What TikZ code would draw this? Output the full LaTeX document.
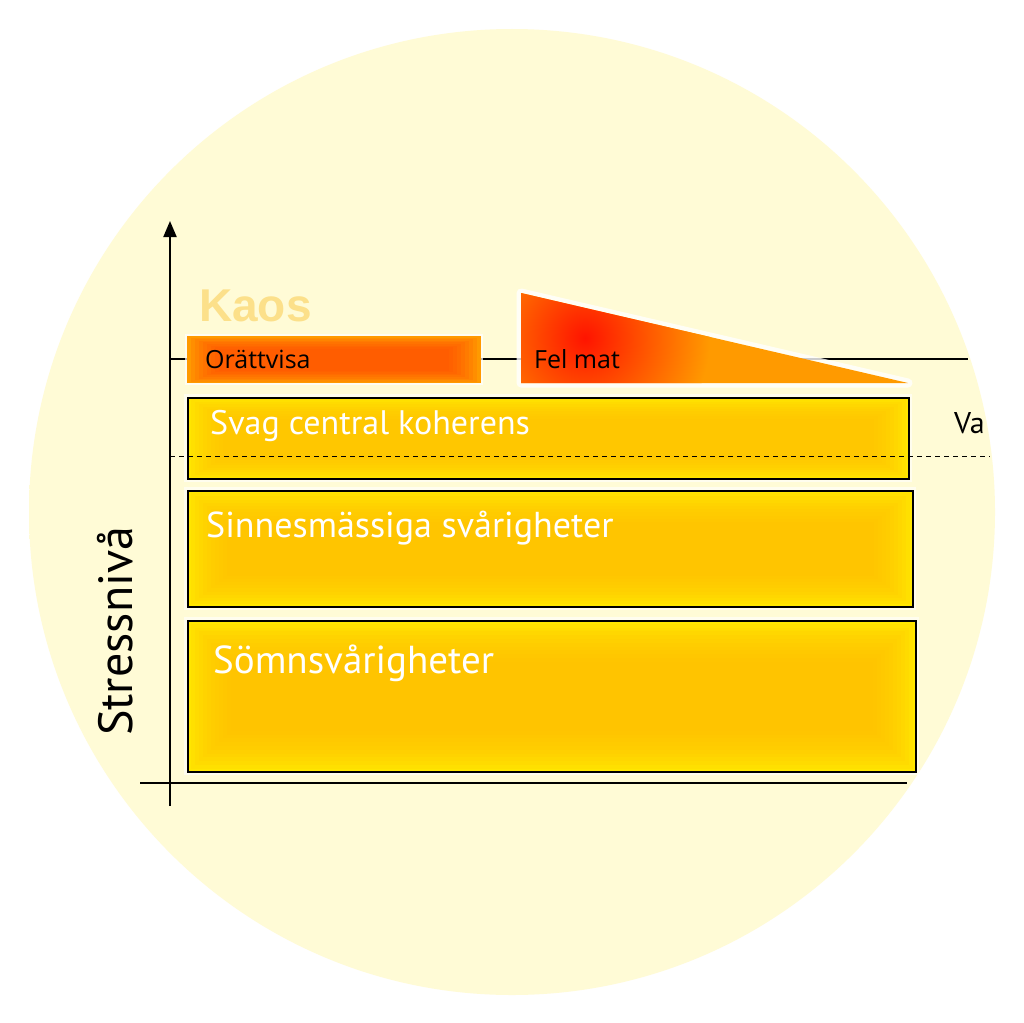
\documentclass[tikz,border=0pt]{standalone}
\usepackage{fontspec}
\setmainfont{PT Sans}
\newfontfamily\kaosfont{Liberation Sans}
\newfontfamily\tagfont{Open Sans}
\usetikzlibrary{positioning,arrows.meta}
\definecolor{bgyellow}{HTML}{FFFBD6}
\definecolor{boxedge}{HTML}{FFE600}
\definecolor{boxcore}{HTML}{FFBE00}
\definecolor{hotedge}{HTML}{FF9A00}
\definecolor{hotcore}{HTML}{FF4400}
\definecolor{redspot}{HTML}{FF1400}
\definecolor{kaoscol}{HTML}{FCE08A}
\pgfdeclareradialshading{discglow}{\pgfpoint{0bp}{0bp}}{color(0bp)=(bgyellow); color(46bp)=(bgyellow); color(50bp)=(white)}
\newcommand\softcore[4]{% node, colour, steps, vertical step
    \foreach \i in {1,...,#3}
        \fill [#2, opacity=0.13] ([shift={(\i*4,\i*#4)}]#1.north west) rectangle ([shift={(-\i*4,-\i*#4)}]#1.south east);}
\begin{document}
\begin{tikzpicture}[x=1pt, y=-1pt,
        block/.style={rectangle, anchor=north west, draw=black, line width=1.5pt, fill=boxedge,
            preaction={draw=white, line width=7pt, opacity=0.6}},
        hotblock/.style={rectangle, anchor=north west, fill=hotedge,
            preaction={draw=white, line width=4pt, opacity=0.7}},
        boxtext/.style={anchor=base west, text=white, inner sep=0pt},
        tagtext/.style={anchor=base west, text=black, inner sep=0pt, font=\tagfont\fontsize{25}{28}\selectfont},
        axis/.style={draw=black, line width=2pt},
        level/.style={draw=black, line width=1.4pt}
    ]
        \useasboundingbox[fill=white] (0,0) rectangle (1024,1022);
        \node [circle, minimum size=966pt, shading=discglow] (disc) at (512,512) {};

        % axes
        \coordinate (ytop) at (170,221);
        \coordinate (ybot) at (170,806);
        \coordinate (xleft) at (140,783);
        \coordinate (xright) at (907,783);
        \draw [axis, -{Triangle[length=16pt, width=13pt]}] (ybot) -- (ytop);
        \draw [axis] (xleft) -- (xright);

        % levels
        \coordinate (lvlleft) at (170,359);
        \coordinate (lvlright) at (968,359);
        \coordinate (valeft) at (170,456);
        \coordinate (varight) at (990,456);
        \draw [level] (lvlleft) -- (lvlright);

        \node [font=\kaosfont\bfseries\fontsize{46}{50}\selectfont, text=kaoscol, anchor=base west, inner sep=0pt] (kaos) at (199,321) {Kaos};

        \node [hotblock, minimum width=294pt, minimum height=47pt] (orattvisa) at (187,336) {};
        \softcore{orattvisa}{hotcore}{8}{1.6}
        \node [tagtext] (orattvisatext) at (205,368) {Orättvisa};

        \path [preaction={draw=white, line width=9pt, opacity=0.8, line join=round}, fill=hotedge]
            (521,293) coordinate (felA) -- (521,383) coordinate (felB) -- (908,383) coordinate (felC) -- cycle;
        \begin{scope}
            \clip (felA) -- (felB) -- (felC) -- cycle;
            \shade [inner color=redspot, outer color=hotedge] (585,338) circle (125);
        \end{scope}
        \node [tagtext] (felmat) at (534,368) {Fel mat};

        \node [block, minimum width=721pt, minimum height=81pt] (svag) at (187,397) {};
        \softcore{svag}{boxcore}{9}{2.4}
        \node [block, minimum width=725pt, minimum height=116pt] (sinnes) at (187,490) {};
        \softcore{sinnes}{boxcore}{10}{3.2}
        \node [block, minimum width=728pt, minimum height=151pt] (somn) at (187,620) {};
        \softcore{somn}{boxcore}{11}{3.8}

        \draw [draw=black, line width=1pt, dash pattern=on 5pt off 4pt] (valeft) -- (varight);

        \node [boxtext, font=\fontsize{34}{38}\selectfont] (svagtext) at (210,434) {Svag central koherens};
        \node [boxtext, font=\fontsize{36}{40}\selectfont] (sinnestext) at (206,537) {Sinnesmässiga svårigheter};
        \node [boxtext, font=\fontsize{39}{44}\selectfont] (somntext) at (213,673) {Sömnsvårigheter};

        \node [anchor=base west, inner sep=0pt, font=\fontsize{30}{34}\selectfont] (va) at (954,433) {Va};
        \node [anchor=base west, inner sep=0pt, rotate=90, font=\fontsize{48}{54}\selectfont] (stress) at (132,736) {Stressnivå};
    \end{tikzpicture}
\end{document}
